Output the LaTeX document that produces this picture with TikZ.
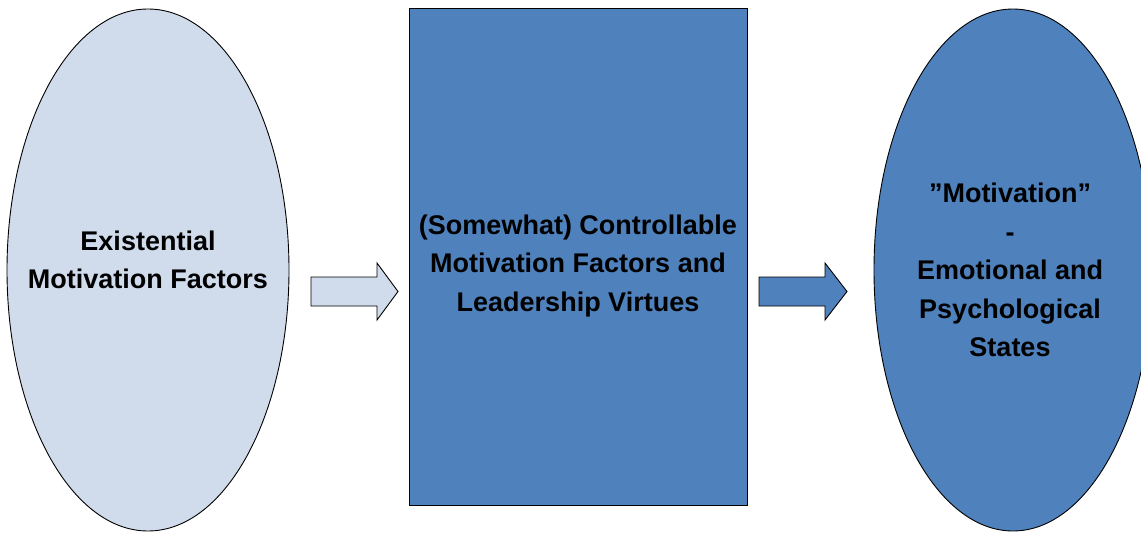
\documentclass[tikz,border=0pt]{standalone}
\usepackage{fontspec}
\setmainfont{Liberation Sans}
\usetikzlibrary{shapes.geometric}
\definecolor{lightfill}{RGB}{208,220,236}
\definecolor{darkfill}{RGB}{79,129,189}
\tikzset{
  outline/.style={draw=black, line width=0.9pt},
  txt/.style={align=center, inner sep=0pt, text=black,
    font=\fontsize{27}{38.5}\selectfont\bfseries},
  blockarrow/.style={draw=black, line width=0.9pt, line join=miter}
}
\begin{document}
\begin{tikzpicture}[x=1pt,y=-1pt]
\clip (0,0) rectangle (1141,533);
\fill[white] (0,0) rectangle (1141,533);
% left ellipse
\node[ellipse, outline, fill=lightfill, minimum width=282pt, minimum height=522pt, inner sep=0pt] (left) at (148,270) {};
\node[txt] (lefttext) at (148,260) {Existential\\Motivation Factors};
% middle rectangle
\node[rectangle, outline, fill=darkfill, minimum width=338pt, minimum height=497pt, inner sep=0pt] (mid) at (578,256.5) {};
\node[txt] (midtext) at (578,266) {(Somewhat) Controllable\\Motivation Factors and\\Leadership Virtues};
% right ellipse
\node[ellipse, outline, fill=darkfill, minimum width=278pt, minimum height=522pt, inner sep=0pt] (right) at (1013,270) {};
\node[txt] (righttext) at (1010,270) {”Motivation”\\-\\Emotional and\\Psychological\\States};
% block arrows
\draw[blockarrow, fill=lightfill] (311,277) -- (377,277) -- (377,263) -- (398,291.5) -- (377,320) -- (377,306) -- (311,306) -- cycle;
\draw[blockarrow, fill=darkfill] (759,277) -- (825,277) -- (825,263) -- (847,291.5) -- (825,320) -- (825,306) -- (759,306) -- cycle;
\end{tikzpicture}
\end{document}
